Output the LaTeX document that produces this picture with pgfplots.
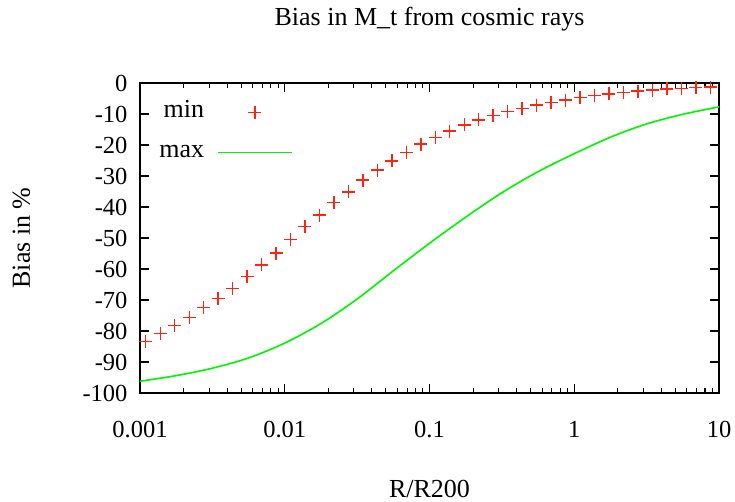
\documentclass[border=0pt]{standalone}
\usepackage{fontspec}
\setmainfont{Liberation Serif}
\usepackage{pgfplots}
\pgfplotsset{compat=1.18}
\definecolor{gpred}{RGB}{255,36,16}
\definecolor{gpgreen}{RGB}{0,245,0}
\begin{document}
\begin{tikzpicture}[font=\fontsize{26bp}{30bp}\selectfont]
\useasboundingbox (-140bp,-109bp) rectangle (595bp,393bp);
\begin{axis}[
  at={(0,0)}, anchor=south west,
  scale only axis,
  width=579bp, height=310bp,
  xmode=log,
  xmin=0.001, xmax=10,
  ymin=-100, ymax=0,
  xtick={0.001,0.01,0.1,1,10},
  xticklabels={0.001,0.01,0.1,1,10},
  ytick={-100,-90,...,0},
  /pgf/number format/assume math mode=true,
  tick label style={font=\fontsize{24.5bp}{28bp}\selectfont},
  tick align=inside,
  major tick length=9bp,
  minor tick length=5bp,
  axis line style={line width=1.6bp},
  every tick/.style={black, line width=1.1bp},
  xticklabel style={yshift=-25bp},
  yticklabel style={xshift=-9bp},
  title={Bias in M\_t from cosmic rays},
  title style={at={(axis description cs:0.5,1)}, anchor=base, yshift=52bp},
  xlabel={R/R200},
  xlabel style={at={(axis description cs:0.5,0)}, anchor=base, yshift=-104bp},
  ylabel={Bias in \%},
  ylabel style={at={(axis description cs:0,0.5)}, anchor=base, yshift=110bp},
  legend style={draw=none, fill=none, at={(rel axis cs:0.264,0.935)}, anchor=north east,
    legend plot pos=right, legend cell align=right, inner sep=0pt, row sep=22bp,
    nodes={inner sep=0pt, text height=14bp, text depth=4bp},
    /tikz/every odd column/.append style={column sep=13bp}},
  legend image code/.code={\draw[#1,mark repeat=2,mark phase=2] plot coordinates {(0bp,0bp) (37bp,0bp) (74bp,0bp)};},
]
% min: plus marks
\addplot[only marks, mark=+, mark size=6.5bp, color=gpred, line width=1.4bp,
         mark options={draw=gpred, line width=1.4bp}]
  coordinates {
  (0.001096,-83.4) (0.001380,-80.8) (0.001738,-78.3) (0.002188,-75.7) (0.002754,-72.5)
  (0.003467,-69.5) (0.004365,-66.2) (0.005495,-62.5) (0.006918,-58.7) (0.008710,-54.9)
  (0.01096,-50.4) (0.01380,-46.3) (0.01738,-42.6) (0.02188,-38.6) (0.02754,-35.1)
  (0.03467,-31.3) (0.04365,-28.1) (0.05495,-25.1) (0.06918,-22.4) (0.08710,-19.7)
  (0.1096,-17.6) (0.1380,-15.5) (0.1738,-13.5) (0.2188,-11.9) (0.2754,-10.5)
  (0.3467,-9.2) (0.4365,-8.2) (0.5495,-7.1) (0.6918,-6.2) (0.8710,-5.5)
  (1.096,-4.6) (1.380,-4.1) (1.738,-3.5) (2.188,-3.0) (2.754,-2.6)
  (3.467,-2.3) (4.365,-1.9) (5.495,-1.7) (6.918,-1.5) (8.710,-1.3)};
\addlegendentry{min}
% max: smooth line
\addplot[gpgreen, line width=1.6bp, smooth, mark=none]
  coordinates {
  (0.001,-96.2) (0.001778,-94.4) (0.003162,-92.0) (0.005623,-88.7) (0.01,-83.9)
  (0.01778,-77.6) (0.03162,-69.7) (0.05623,-60.6) (0.1,-51.7) (0.1778,-43.3)
  (0.3162,-35.4) (0.5623,-28.6) (1,-22.8) (1.778,-17.5) (3.162,-13.2)
  (5.623,-10.1) (10,-7.7)};
\addlegendentry{max}
\end{axis}
\end{tikzpicture}
\end{document}
